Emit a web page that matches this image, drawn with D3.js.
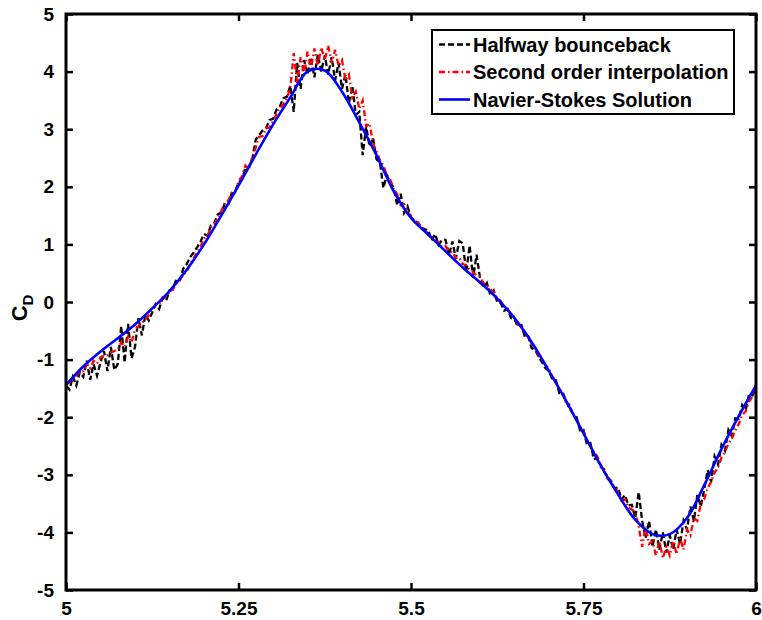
<!DOCTYPE html>
<html>
<head>
<meta charset="utf-8">
<script src="https://cdn.jsdelivr.net/npm/d3@7"></script>
<style>
  body { margin: 0; background: #fff; }
  text { font-family: "Liberation Sans", Arial, sans-serif; font-weight: bold; }
</style>
</head>
<body>
<script>
// Navier-Stokes solution, sampled every 0.025 from t = 5 to 6
const nsTimes = d3.range(41).map(i => 5 + i * 0.025);
const nsValues = [
  -1.44, -1.12, -0.86, -0.63, -0.39, -0.11, 0.19, 0.56, 1.00, 1.50,
  2.02, 2.56, 3.08, 3.55, 4.00, 4.02, 3.65, 3.12, 2.55, 1.92,
  1.46, 1.17, 0.88, 0.60, 0.34, 0.06, -0.28, -0.70, -1.20, -1.72,
  -2.28, -2.84, -3.34, -3.78, -4.03, -4.03, -3.75, -3.18, -2.55, -1.98,
  -1.45
];

// LBM runs, sampled every 0.005
const lbmTimes = d3.range(201).map(i => 5 + i * 0.005);
const halfwayValues = [
  -1.45, -1.52, -1.30, -1.45, -1.22,  -1.30, -1.02, -1.35, -1.08, -1.28,
  -1.05, -0.85, -1.20, -0.78, -1.18,  -1.08, -0.42, -1.05, -0.38, -0.98,
  -0.78, -0.28, -0.58, -0.22, -0.32,  -0.18, -0.04, -0.12, 0.07, 0.02,
  0.20, 0.22, 0.40, 0.38, 0.58,  0.66, 0.78, 0.86, 0.95, 1.05,
  1.18, 1.15, 1.33, 1.37, 1.52,  1.55, 1.70, 1.68, 1.88, 1.90,
  2.08, 2.12, 2.33, 2.35, 2.48,  2.82, 2.90, 2.98, 3.02, 3.16,
  3.18, 3.34, 3.40, 3.54, 3.56,  3.75, 3.30, 4.15, 3.70, 4.20,
  3.95, 4.25, 3.90, 4.30, 4.00,  4.28, 3.95, 4.25, 3.85, 4.15,
  3.70, 3.95, 3.45, 3.75, 3.25,  3.30, 2.55, 3.05, 2.70, 2.85,
  2.48, 2.42, 1.98, 2.20, 2.08,  1.98, 1.68, 1.88, 1.55, 1.66,
  1.47, 1.41, 1.38, 1.29, 1.26,  1.25, 1.07, 1.18, 0.99, 1.08,
  1.08, 0.82, 1.05, 0.76, 1.06,  1.02, 0.52, 0.98, 0.42, 0.82,
  0.42, 0.26, 0.33, 0.12, 0.20,  0.00, -0.02, -0.15, -0.12, -0.28,
  -0.30, -0.43, -0.40, -0.61, -0.60,  -0.80, -0.83, -0.95, -1.05, -1.15,
  -1.20, -1.35, -1.36, -1.58, -1.58,  -1.73, -1.85, -1.95, -2.00, -2.23,
  -2.22, -2.48, -2.45, -2.73, -2.70,  -2.83, -2.95, -3.03, -3.12, -3.23,
  -3.22, -3.43, -3.35, -3.53, -3.52,  -3.75, -3.30, -3.80, -4.10, -3.80,
  -4.25, -3.95, -4.30, -4.00, -4.35,  -4.05, -4.30, -3.95, -4.20, -3.80,
  -3.95, -3.55, -3.80, -3.35, -3.55,  -3.25, -2.92, -3.12, -2.68, -2.82,
  -2.48, -2.58, -2.22, -2.33, -2.02,  -2.03, -1.79, -1.88, -1.60, -1.62,
  -1.45
];
const secondOrderValues = [
  -1.42, -1.40, -1.31, -1.30, -1.20,  -1.20, -1.08, -1.15, -1.02, -1.07,
  -0.96, -0.95, -0.92, -0.88, -0.85,  -0.83, -0.70, -0.78, -0.60, -0.70,
  -0.48, -0.42, -0.36, -0.30, -0.23,  -0.15, -0.04, -0.04, 0.07, 0.08,
  0.18, 0.22, 0.33, 0.38, 0.48,  0.53, 0.67, 0.76, 0.87, 0.96,
  1.10, 1.14, 1.30, 1.34, 1.47,  1.58, 1.72, 1.76, 1.90, 1.90,
  2.10, 2.18, 2.37, 2.30, 2.52,  2.68, 2.87, 2.88, 3.02, 3.03,
  3.14, 3.26, 3.37, 3.43, 3.54,  3.70, 4.32, 3.80, 4.25, 3.95,
  4.35, 4.05, 4.40, 4.10, 4.42,  4.20, 4.45, 4.15, 4.38, 4.10,
  4.20, 3.85, 3.95, 3.55, 3.65,  3.35, 3.50, 3.05, 3.10, 2.75,
  2.62, 2.46, 2.37, 2.20, 2.12,  1.96, 1.87, 1.68, 1.70, 1.56,
  1.50, 1.40, 1.38, 1.30, 1.27,  1.16, 1.14, 1.06, 1.04, 0.95,
  0.97, 0.88, 0.87, 0.76, 0.77,  0.66, 0.64, 0.56, 0.52, 0.46,
  0.44, 0.33, 0.30, 0.22, 0.17,  0.06, 0.02, -0.08, -0.12, -0.22,
  -0.26, -0.40, -0.42, -0.54, -0.58,  -0.74, -0.78, -0.94, -1.00, -1.10,
  -1.16, -1.30, -1.38, -1.52, -1.56,  -1.76, -1.78, -1.98, -2.03, -2.17,
  -2.24, -2.42, -2.50, -2.60, -2.68,  -2.87, -2.90, -3.07, -3.10, -3.24,
  -3.28, -3.44, -3.43, -3.57, -3.60,  -3.65, -3.90, -4.25, -3.90, -4.20,
  -4.15, -4.40, -4.15, -4.45, -4.25,  -4.40, -4.15, -4.38, -4.10, -4.30,
  -3.95, -4.05, -3.75, -3.80, -3.50,  -3.42, -3.23, -3.12, -2.96, -2.87,
  -2.70, -2.60, -2.46, -2.37, -2.23,  -2.12, -1.96, -1.90, -1.73, -1.64,
  -1.50
];

const xTicks = [5, 5.25, 5.5, 5.75, 6];
const xTickLabels = ["5", "5.25", "5.5", "5.75", "6"];
const yTicks = [-5, -4, -3, -2, -1, 0, 1, 2, 3, 4, 5];
const legendLabels = ["Halfway bounceback", "Second order interpolation", "Navier-Stokes Solution"];

const W = 762, H = 620;
const margin = { top: 14, right: 6, bottom: 30, left: 66 };
const width = W - margin.left - margin.right;
const height = H - margin.top - margin.bottom;

const svg = d3.select(document.body).append('svg')
  .attr('width', W)
  .attr('height', H);

const g = svg.append('g')
  .attr('transform', `translate(${margin.left},${margin.top})`);

const x = d3.scaleLinear().domain([5, 6]).range([0, width]);
const y = d3.scaleLinear().domain([-5, 5]).range([height, 0]);

g.append('clipPath').attr('id', 'clip')
  .append('rect').attr('width', width).attr('height', height);

const plot = g.append('g').attr('clip-path', 'url(#clip)');

const rawLine = d3.line()
  .x(d => x(d[0]))
  .y(d => y(d[1]));

const smoothLine = d3.line()
  .x(d => x(d[0]))
  .y(d => y(d[1]))
  .curve(d3.curveCatmullRom);

const series = [
  { name: legendLabels[0], pts: d3.zip(lbmTimes, halfwayValues), color: '#000', dash: '6,3', w: 2.3, gen: rawLine },
  { name: legendLabels[1], pts: d3.zip(lbmTimes, secondOrderValues), color: '#ff0000', dash: '6,3,1.5,3', w: 2.3, gen: rawLine },
  { name: legendLabels[2], pts: d3.zip(nsTimes, nsValues), color: '#0000ff', dash: null, w: 2.6, gen: smoothLine }
];

series.forEach(s => {
  plot.append('path')
    .attr('d', s.gen(s.pts))
    .attr('fill', 'none')
    .attr('stroke', s.color)
    .attr('stroke-width', s.w)
    .attr('stroke-dasharray', s.dash);
});

// axes, MATLAB style: ticks inside, box all round
const tickLen = 7;
g.append('g')
  .attr('transform', `translate(0,${height})`)
  .call(d3.axisBottom(x).tickValues(xTicks).tickSize(-tickLen).tickPadding(12)
    .tickFormat((d, i) => xTickLabels[i]))
  .call(a => a.select('.domain').remove());

g.append('g')
  .call(d3.axisTop(x).tickValues(xTicks).tickSize(-tickLen).tickFormat(''))
  .call(a => a.select('.domain').remove());

g.append('g')
  .call(d3.axisLeft(y).tickValues(yTicks).tickSize(-tickLen).tickPadding(12).tickFormat(d => String(d)))
  .call(a => a.select('.domain').remove());

g.append('g')
  .attr('transform', `translate(${width},0)`)
  .call(d3.axisRight(y).tickValues(yTicks).tickSize(-tickLen).tickFormat(''))
  .call(a => a.select('.domain').remove());

g.selectAll('.tick line').attr('stroke', '#000').attr('stroke-width', 2.5);
g.selectAll('.tick text')
  .attr('fill', '#000')
  .style('font-size', '19px')
  .style('font-weight', 'bold');

g.append('rect')
  .attr('width', width)
  .attr('height', height)
  .attr('fill', 'none')
  .attr('stroke', '#000')
  .attr('stroke-width', 3);

// y label C_D
const yl = svg.append('text')
  .attr('transform', `translate(27,${margin.top + y(0) + 6}) rotate(-90)`)
  .attr('text-anchor', 'middle')
  .style('font-size', '22px')
  .attr('fill', '#000');
yl.append('tspan').text('C');
yl.append('tspan').attr('dy', 6).style('font-size', '15px').text('D');

// legend
const legend = svg.append('g').attr('transform', 'translate(432,30)');
legend.append('rect')
  .attr('width', 302)
  .attr('height', 84)
  .attr('fill', '#fff')
  .attr('stroke', '#000')
  .attr('stroke-width', 2);

series.forEach((s, i) => {
  const cy = 14.5 + i * 27.5;
  legend.append('line')
    .attr('x1', 7).attr('x2', 38)
    .attr('y1', cy).attr('y2', cy)
    .attr('stroke', s.color)
    .attr('stroke-width', s.w)
    .attr('stroke-dasharray', s.dash);
  legend.append('text')
    .attr('x', 41)
    .attr('y', cy + 7)
    .style('font-size', '20px')
    .attr('fill', '#000')
    .text(s.name);
});
</script>
</body>
</html>
